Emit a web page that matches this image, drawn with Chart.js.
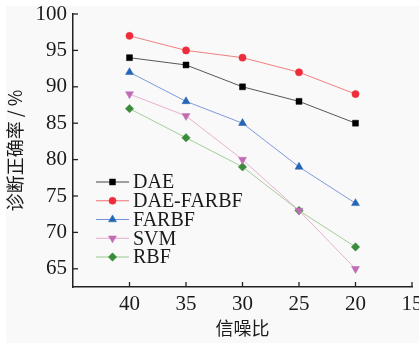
<!DOCTYPE html>
<html><head><meta charset="utf-8">
<script src="https://cdn.jsdelivr.net/npm/chart.js@4/dist/chart.umd.min.js"></script>
<style>html,body{margin:0;padding:0;background:#fff;}#wrap{width:419px;height:343px;position:relative;}</style>
</head><body><div id="wrap"><canvas id="c" width="419" height="343"></canvas></div>
<script>
const snr = [40, 35, 30, 25, 20];
const xTicks = [40, 35, 30, 25, 20, 15];
const yTicks = [100, 95, 90, 85, 80, 75, 70, 65];
const seriesNames = ['DAE', 'DAE-FARBF', 'FARBF', 'SVM', 'RBF'];
const dae = [94, 93, 90, 88, 85];
const daeFarbf = [97, 95, 94, 92, 89];
const farbf = [92, 88, 85, 79, 74];
const svm = [89, 86, 80, 73, 65];
const rbf = [87, 83, 79, 73, 68];

const serif = '"Liberation Serif", "DejaVu Serif", serif';
const cjk = '"Noto Sans CJK SC", "Noto Sans", sans-serif';

function pts(v){ return snr.map((x,i)=>({x:x, y:v[i]})); }
const styles = [
  {line:'#444444', pt:'#000000', ps:'rect', r:4.2, rot:0},
  {line:'#f07070', pt:'#ee2d3a', ps:'circle', r:3.6, rot:0},
  {line:'#7090d8', pt:'#2565b5', ps:'triangle', r:4.6, rot:0},
  {line:'#e8a8cc', pt:'#c06cb4', ps:'triangle', r:4.6, rot:180},
  {line:'#9cc890', pt:'#3a8c3a', ps:'rectRot', r:4.2, rot:0}
];
const vals = [dae, daeFarbf, farbf, svm, rbf];
const datasets = vals.map((v,i)=>({
  label: seriesNames[i], data: pts(v),
  borderColor: styles[i].line, borderWidth: 0.9,
  backgroundColor: styles[i].pt, pointBackgroundColor: styles[i].pt, pointBorderColor: styles[i].pt,
  pointStyle: styles[i].ps, pointRadius: styles[i].r, pointRotation: styles[i].rot, pointBorderWidth: 0.5,
  tension: 0
}));

const bgPlugin = {
  id:'bg',
  beforeDraw(chart){
    const ctx = chart.ctx; ctx.save();
    ctx.fillStyle = '#fff'; ctx.fillRect(0,0,chart.width,chart.height);
    ctx.fillStyle = '#f9f9f9'; ctx.fillRect(6,6,chart.width-6,chart.height-6);
    ctx.restore();
  }
};

const extrasPlugin = {
  id:'extras',
  afterDraw(chart){
    const ctx = chart.ctx; const xs = chart.scales.x, ys = chart.scales.y;
    const ca = chart.chartArea;
    ctx.save();
    ctx.strokeStyle = '#222'; ctx.lineWidth = 1.3;
    xTicks.forEach(t=>{ const px = xs.getPixelForValue(t); ctx.beginPath(); ctx.moveTo(px, ca.bottom); ctx.lineTo(px, ca.bottom-5); ctx.stroke(); });
    yTicks.forEach(t=>{ const py = ys.getPixelForValue(t); ctx.beginPath(); ctx.moveTo(ca.left, py); ctx.lineTo(ca.left+5, py); ctx.stroke(); });
    const lx = 96, ly0 = 182, dy = 18.75;
    chart.data.datasets.forEach((ds,i)=>{
      const y = ly0 + i*dy;
      ctx.strokeStyle = ds.borderColor; ctx.lineWidth = 1;
      ctx.beginPath(); ctx.moveTo(lx, y); ctx.lineTo(lx+33, y); ctx.stroke();
      ctx.fillStyle = ds.pointBackgroundColor; ctx.strokeStyle = ds.pointBorderColor; ctx.lineWidth = 0.5;
      Chart.helpers.drawPoint(ctx, {pointStyle: ds.pointStyle, radius: ds.pointRadius, rotation: ds.pointRotation, borderWidth: 0.5}, lx+16.5, y);
      ctx.fillStyle = '#1a1a1a'; ctx.font = '20px ' + serif; ctx.textBaseline = 'middle'; ctx.textAlign = 'left';
      ctx.fillText(ds.label, lx+37, y+1);
    });
    ctx.restore();
  }
};

new Chart(document.getElementById('c'), {
  type:'line',
  data:{datasets},
  options:{
    responsive:false, animation:false, devicePixelRatio:1,
    layout:{padding:{top:14, right:7, left:0, bottom:0}},
    plugins:{legend:{display:false}, tooltip:{enabled:false}},
    scales:{
      x:{type:'linear', min:15, max:45, reverse:true,
        afterBuildTicks(s){ s.ticks = xTicks.map(v=>({value:v})); },
        afterFit(s){ s.height = 56; s.paddingLeft = 0; s.paddingRight = 0; },
        grid:{display:true, drawOnChartArea:false, drawTicks:false},
        border:{display:true, color:'#222', width:1.5},
        ticks:{padding:5, color:'#1a1a1a', font:{family:serif, size:21}, maxRotation:0},
        title:{display:true, text:'信噪比', color:'#1a1a1a', font:{family:cjk, size:18}, padding:{top:0,bottom:4}}
      },
      y:{type:'linear', min:62.5, max:100,
        afterBuildTicks(s){ s.ticks = yTicks.map(v=>({value:v})); },
        afterFit(s){ s.width = 73; s.paddingTop = 0; s.paddingBottom = 0; },
        grid:{display:true, drawOnChartArea:false, drawTicks:false},
        border:{display:true, color:'#222', width:1.5},
        ticks:{padding:6, color:'#1a1a1a', font:{family:serif, size:21}},
        title:{display:true, text:'诊断正确率 / %', color:'#1a1a1a', font:{family:cjk, size:18}, padding:{top:4,bottom:0}}
      }
    }
  },
  plugins:[bgPlugin, extrasPlugin]
});
</script></body></html>
